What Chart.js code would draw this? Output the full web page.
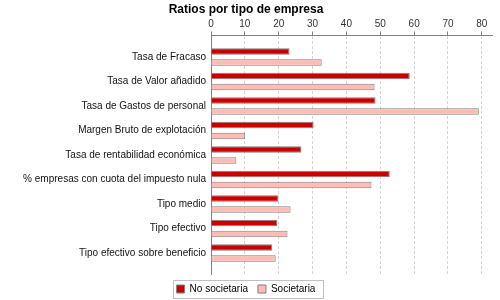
<!DOCTYPE html>
<html>
<head>
<meta charset="utf-8">
<script src="https://cdn.jsdelivr.net/npm/chart.js@4.4.0/dist/chart.umd.min.js"></script>
<style>
  body { margin: 0; background: #fff; }
</style>
</head>
<body>
<canvas id="ratiosChart" width="500" height="300"></canvas>
<script>
// Datos
const categorias = [
    'Tasa de Fracaso',
    'Tasa de Valor añadido',
    'Tasa de Gastos de personal',
    'Margen Bruto de explotación',
    'Tasa de rentabilidad económica',
    '% empresas con cuota del impuesto nula',
    'Tipo medio',
    'Tipo efectivo',
    'Tipo efectivo sobre beneficio'
];
const noSocietaria = [23.2, 58.7, 48.6, 30.3, 26.7, 52.8, 19.9, 19.6, 18.1];
const societaria = [32.7, 48.3, 79.1, 10.1, 7.5, 47.4, 23.5, 22.6, 19.1];
const ticksX = [0, 10, 20, 30, 40, 50, 60, 70, 80];

const fuente = 'Liberation Sans, Arial, sans-serif';

// Marco alrededor de la leyenda
const marcoLeyenda = {
    id: 'marcoLeyenda',
    afterDraw(chart) {
        const cajas = chart.legend.legendHitBoxes;
        if (!cajas || !cajas.length) return;
        const ultima = cajas[cajas.length - 1];
        const x1 = Math.round(cajas[0].left - 4) + 0.5;
        const x2 = Math.round(ultima.left + ultima.width + 8) + 0.5;
        const y1 = Math.round(cajas[0].top - 4) + 0.5;
        const y2 = Math.round(cajas[0].top + cajas[0].height + 4) + 0.5;
        const ctx = chart.ctx;
        ctx.save();
        ctx.strokeStyle = '#c0c0c0';
        ctx.lineWidth = 1;
        ctx.strokeRect(x1, y1, x2 - x1, y2 - y1);
        ctx.restore();
    }
};

const ctx = document.getElementById('ratiosChart').getContext('2d');
const chart = new Chart(ctx, {
    type: 'bar',
    data: {
        datasets: [{
            label: 'No societaria',
            data: noSocietaria.map((v, i) => ({ x: v, y: i })),
            backgroundColor: '#cc0000',
            borderColor: '#808080',
            borderWidth: 1
        }, {
            label: 'Societaria',
            data: societaria.map((v, i) => ({ x: v, y: i })),
            backgroundColor: '#ffbcb5',
            borderColor: '#808080',
            borderWidth: 1
        }]
    },
    options: {
        indexAxis: 'y',
        responsive: false,
        animation: false,
        categoryPercentage: 0.9,
        barPercentage: 0.59,
        layout: {
            padding: { left: 0, right: 8, top: 0, bottom: -4 }
        },
        scales: {
            x: {
                position: 'top',
                min: 0,
                max: 83,
                afterBuildTicks: s => { s.ticks = ticksX.map(v => ({ value: v })); },
                ticks: {
                    font: { family: fuente, size: 10 },
                    color: '#333',
                    padding: 1
                },
                grid: {
                    color: '#d4d4d4',
                    tickColor: '#808080',
                    tickLength: 4
                },
                border: { color: '#808080', dash: [3, 2] }
            },
            y: {
                type: 'linear',
                reverse: true,
                offset: false,
                min: -0.88,
                max: 8.86,
                afterBuildTicks: s => { s.ticks = categorias.map((c, i) => ({ value: i })); },
                afterFit: s => { s.width = 211; },
                ticks: {
                    callback: v => categorias[v],
                    font: { family: fuente, size: 10 },
                    color: '#111',
                    padding: 5,
                    autoSkip: false
                },
                grid: { display: false, drawTicks: false },
                border: { color: '#808080' }
            }
        },
        plugins: {
            title: {
                display: true,
                text: 'Ratios por tipo de empresa',
                color: '#000',
                font: { family: fuente, size: 12, weight: 'bold' },
                padding: { top: 2, bottom: 1 }
            },
            legend: {
                position: 'bottom',
                labels: {
                    boxWidth: 8,
                    boxHeight: 8,
                    padding: 10,
                    color: '#000',
                    font: { family: fuente, size: 10 }
                }
            },
            tooltip: { enabled: false }
        }
    },
    plugins: [marcoLeyenda]
});
</script>
</body>
</html>
